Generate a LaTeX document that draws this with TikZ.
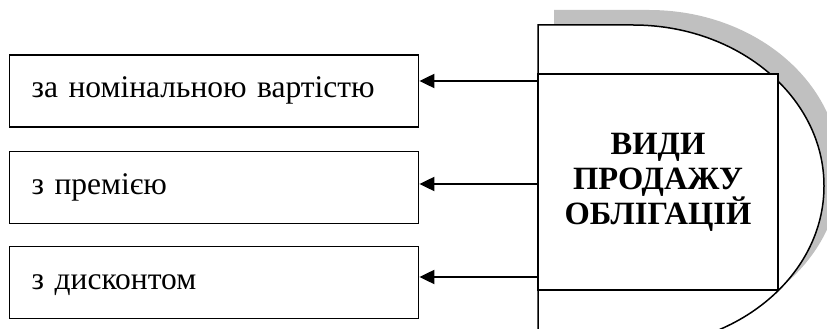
\documentclass[tikz,border=0pt]{standalone}
\usepackage{fontspec}
\setmainfont{Liberation Serif}
\usetikzlibrary{arrows.meta}
\definecolor{shadowgray}{RGB}{192,192,192}
\tikzset{
  itembox/.style={draw, line width=1.4pt, minimum width=409pt, minimum height=72pt,
    inner xsep=22pt, anchor=west, align=left, text width=365pt,
    font=\fontsize{31.5}{36}\selectfont, text height=21pt, text depth=7pt},
  corebox/.style={draw, line width=1.4pt, minimum width=240pt, minimum height=216pt,
    align=center, font=\bfseries\fontsize{32.5}{35}\selectfont},
  feed/.style={line width=2pt, -{Triangle[length=15pt,width=14pt]}},
  outline/.style={line width=1.5pt},
}
\begin{document}
\begin{tikzpicture}[x=1pt,y=1pt]
  \useasboundingbox (0,0) rectangle (827,329);
  % rounded backdrop with its shadow
  \fill[shadowgray] (554,-3) -- (554,319) -- (649,319)
     arc[start angle=90, end angle=-90, x radius=191, y radius=161] -- cycle;
  \filldraw[fill=white, outline] (538,-18) -- (538,304) -- (633,304)
     arc[start angle=90, end angle=-90, x radius=191, y radius=161] -- cycle;
  % central title box
  \node[corebox, fill=white] (core) at (658,147) {ВИДИ\\ПРОДАЖУ\\ОБЛІГАЦІЙ};
  % kinds of sale
  \node[itembox] (b1) at (9,238) {за номінальною вартістю};
  \node[itembox] (b2) at (9,141.5) {з премією};
  \node[itembox] (b3) at (9,46.5) {з дисконтом};
  % arrow start points on the title box
  \coordinate (s1) at (538,248);
  \coordinate (s2) at (538,145);
  \coordinate (s3) at (538,52);
  \draw[feed] (s1) -- (s1 -| b1.east);
  \draw[feed] (s2) -- (s2 -| b2.east);
  \draw[feed] (s3) -- (s3 -| b3.east);
\end{tikzpicture}
\end{document}
